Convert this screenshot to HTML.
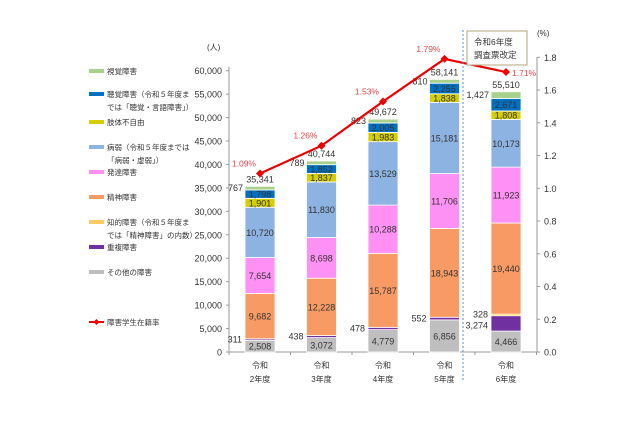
<!DOCTYPE html>
<html><head><meta charset="utf-8"><style>
body{margin:0;background:#fff;width:640px;height:426px;overflow:hidden}
svg{font-family:"Liberation Sans","Noto Sans CJK JP",sans-serif}
</style></head><body>
<svg id="c" width="640" height="426"></svg>
<script>
const categories=[["令和","2年度"],["令和","3年度"],["令和","4年度"],["令和","5年度"],["令和","6年度"]];
const other=[2508,3072,4779,6856,4466];
const dup=[311,438,478,552,3274];
const intel=[0,0,0,0,328];
const mental=[9682,12228,15787,18943,19440];
const dev=[7654,8698,10288,11706,11923];
const sick=[10720,11830,13529,15181,10173];
const phys=[1901,1837,1983,1838,1808];
const hear=[1798,1852,2005,2255,2671];
const vis=[767,789,823,810,1427];
const rates=[1.09,1.26,1.53,1.79,1.71];
const leftTicks=[0,5000,10000,15000,20000,25000,30000,35000,40000,45000,50000,55000,60000];
const rightTicks=[0,0.2,0.4,0.6,0.8,1.0,1.2,1.4,1.6,1.8];
const NS="http://www.w3.org/2000/svg",svg=document.getElementById('c');
const y0=352,yTop=70.7,xL=229,xR=537;
const yL=v=>y0-(v/60000)*(y0-yTop);
const yR=v=>y0-(v/1.8)*(y0-57.3);
const xC=i=>260+i*61.5;
function el(t,a,txt){const e=document.createElementNS(NS,t);for(const k in a)e.setAttribute(k,a[k]);if(txt!==undefined)e.textContent=txt;svg.appendChild(e);return e;}
const fmt=v=>v.toLocaleString('en-US');
let ax=el('line',{x1:xL,y1:y0,x2:xL,y2:yTop-4,stroke:'#999'});

ax=el('line',{x1:xR,y1:y0,x2:xR,y2:57,stroke:'#999'});

ax=el('line',{x1:xL,y1:y0,x2:xR,y2:y0,stroke:'#999'});

leftTicks.forEach(v=>{const t=el('text',{x:222,y:yL(v)+3.5,'font-size':'9','text-anchor':'end',fill:'#333'},fmt(v));

el('line',{x1:xL-3,x2:xL,y1:yL(v),y2:yL(v),stroke:'#999'});});
rightTicks.forEach(v=>{const t=el('text',{x:544,y:yR(v)+3.5,'font-size':'9',fill:'#333'},v.toFixed(1));

el('line',{x1:xR,x2:xR+3,y1:yR(v),y2:yR(v),stroke:'#999'});});
let t=el('text',{x:207,y:50,'font-size':'8',fill:'#333'},'(人)');
t=el('text',{x:537,y:36,'font-size':'8',fill:'#333'},'(%)');
for(let i=0;i<=5;i++){el('line',{x1:229+i*61.5,x2:229+i*61.5,y1:y0,y2:y0+3,stroke:'#999'});}
const series=[[other,'#bfbfbf','other'],[dup,'#7030a0','dup'],[intel,'#ffc000','intel'],[mental,'#f79a64','mental'],[dev,'#ff91f5','dev'],[sick,'#8db3e2','sick'],[phys,'#d6cf00','phys'],[hear,'#0070c0','hear'],[vis,'#a9d18e','vis']];
const bw=30;
categories.forEach((c,i)=>{
 let cum=0;
 series.forEach(([arr,col,nm])=>{
  const v=arr[i];if(!v)return;
  const ya=yL(cum),yb=yL(cum+v);
  const r=el('rect',{x:xC(i)-bw/2,y:yb,width:bw,height:ya-yb,fill:col,stroke:'#fff','stroke-width':'0.8'});
  
  const mid=(ya+yb)/2;
  if(nm==='dup'){
   if(intel[i]){
    const l2=el('text',{x:xC(i)-bw/2-3,y:yb+2,'font-size':'9','text-anchor':'end',fill:'#333'},fmt(intel[i]));
    const l=el('text',{x:xC(i)-bw/2-3,y:yb+13,'font-size':'9','text-anchor':'end',fill:'#333'},fmt(v));
   } else {
    const l=el('text',{x:xC(i)-bw/2-3,y:mid+3,'font-size':'9','text-anchor':'end',fill:'#333'},fmt(v));
   }}
  else if(nm==='intel'){}
  else if(nm==='vis'){const l=el('text',{x:xC(i)-bw/2-2,y:mid+3,'font-size':'9','text-anchor':'end',fill:'#333'},fmt(v));}
  else{const l=el('text',{x:xC(i),y:mid+3.5,'font-size':'9','text-anchor':'middle',fill:'#333'},fmt(v));}
  cum+=v;});
 const tl=el('text',{x:xC(i),y:yL(cum)-4,'font-size':'9','text-anchor':'middle',fill:'#333'},fmt(cum));
 
 c.forEach((s,k)=>{const x=el('text',{x:xC(i),y:368+k*14,'font-size':'8','text-anchor':'middle',fill:'#333'},s);});
});
const pts=rates.map((r,i)=>xC(i)+','+yR(r)).join(' ');
const pl=el('polyline',{points:pts,fill:'none',stroke:'#e00','stroke-width':'2.2'});

rates.forEach((r,i)=>{const p=el('path',{d:`M${xC(i)} ${yR(r)-4}L${xC(i)+4} ${yR(r)}L${xC(i)} ${yR(r)+4}L${xC(i)-4} ${yR(r)}Z`,fill:'#e00'});
 
 const l=el('text',{x:i==4?xC(i)+6:xC(i)-4,y:i==4?yR(r)+4:yR(r)-7,'font-size':'8.5','text-anchor':i==4?'start':'end',fill:'#e8454a'},r.toFixed(2)+'%');
 });
const d=el('line',{x1:463,x2:463,y1:30,y2:382,stroke:'#5b8fd0','stroke-dasharray':'2,2'});
const b=el('rect',{x:467,y:31,width:60,height:34,fill:'#fff',stroke:'#b3a67a'});
t=el('text',{x:474,y:45,'font-size':'8.5',fill:'#333'},'令和6年度');
t=el('text',{x:474,y:58,'font-size':'8.5',fill:'#333'},'調査票改定');
const leg=[['#a9d18e',71,['視覚障害']],['#0070c0',94,['聴覚障害（令和５年度ま','では「聴覚・言語障害」）']],['#d6cf00',122,['肢体不自由']],['#8db3e2',147,['病弱（令和５年度までは','「病弱・虚弱」）']],['#ff91f5',172,['発達障害']],['#f79a64',197,['精神障害']],['#ffc966',222,['知的障害（令和５年度ま','では「精神障害」の内数）']],['#7030a0',247,['重複障害']],['#bfbfbf',272,['その他の障害']]];
leg.forEach(([col,y,lines])=>{const s=el('rect',{x:89,y:y-2,width:15,height:4,fill:col});
 lines.forEach((ln,k)=>{const tx=el('text',{x:107,y:y+3+k*13,'font-size':'7.5',fill:'#333'},ln);});});
const ll=el('line',{x1:89,x2:104,y1:322,y2:322,stroke:'#e00','stroke-width':'2'});
el('path',{d:'M96.5 319L99.5 322L96.5 325L93.5 322Z',fill:'#e00'});
t=el('text',{x:107,y:325,'font-size':'7.5',fill:'#333'},'障害学生在籍率');
</script>
</body></html>
